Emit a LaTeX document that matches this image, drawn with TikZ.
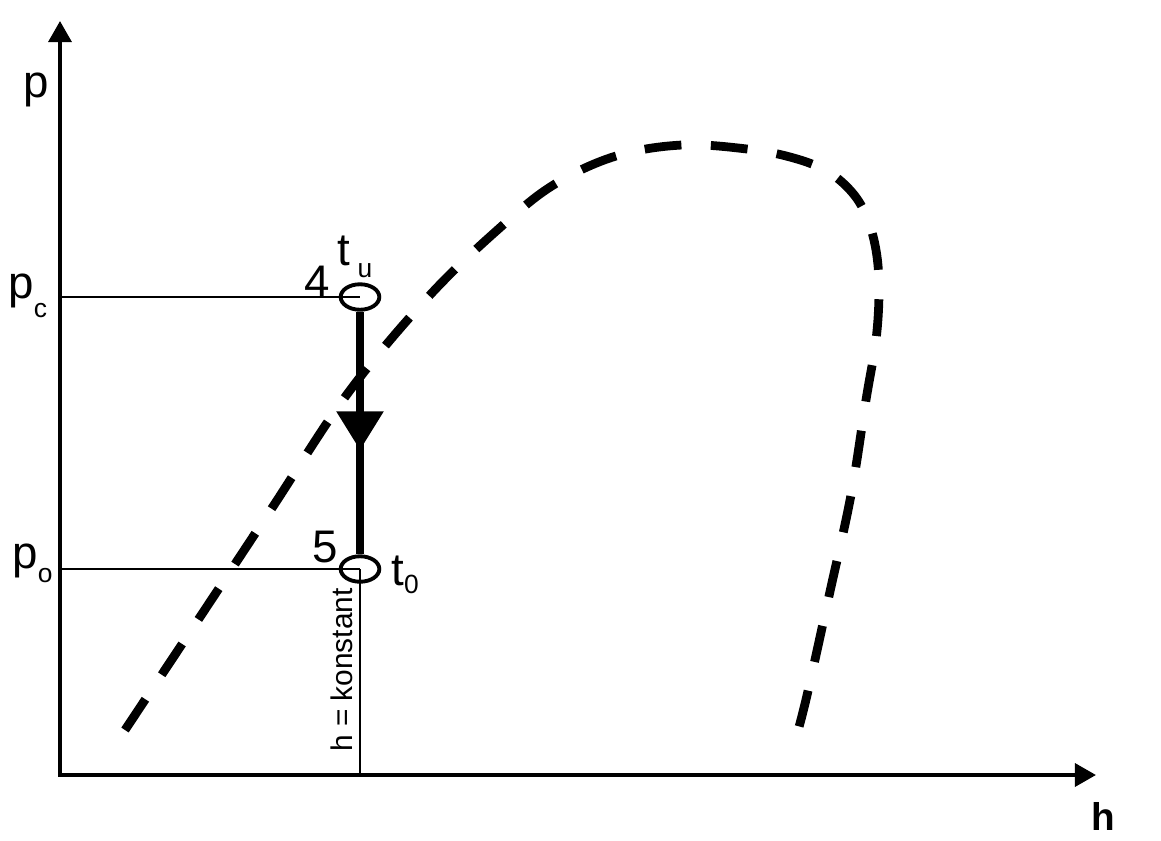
\documentclass[tikz,border=0pt]{standalone}
\usepackage{fontspec}
\setmainfont{Liberation Sans}
\usetikzlibrary{arrows.meta,shapes.geometric,decorations.markings}
\newcommand{\lowsub}[2][8pt]{\raisebox{-#1}{\fontsize{15}{15}\selectfont #2}}
\begin{document}
\begin{tikzpicture}[x=0.02cm,y=-0.02cm,
        axis/.style={line width=2.3pt,-{Triangle[length=12pt,width=13pt]}},
        guide/.style={line width=1pt},
        state/.style={draw,ellipse,line width=2.2pt,inner sep=0pt,
            minimum width=22pt,minimum height=14.5pt},
        lbl/.style={inner sep=0pt,font=\fontsize{26}{26}\selectfont}]
        \useasboundingbox (0,0) rectangle (1161,840);
        %% Axes
        \coordinate (origin) at (60,775);
        \coordinate (ytip) at (60,21);
        \coordinate (xtip) at (1096,775);
        \draw[axis] (origin) -- (ytip);
        \draw[axis] (58,775) -- (xtip);
        \node[lbl,anchor=base] (plabel) at (36,97) {p};
        \node[inner sep=0pt,anchor=base,font=\bfseries\fontsize{22}{22}\selectfont]
            (hlabel) at (1103,830) {h};
        %% Saturation curve
        \draw[line width=5pt,dash pattern=on 21pt off 16.77pt]
            plot[smooth,tension=0.6] coordinates {(125,730) (200,617) (272,508)
            (348,393) (430,295) (503,225) (555,184) (616,156) (682,145)
            (747,149) (790,157) (825,170) (850,190) (866,215) (876,250)
            (879,290) (876,340) (866,400) (851,495) (829,596) (808,691) (799,727)};
        %% States 4 and 5
        \node[state] (s4) at (360,297) {};
        \node[state] (s5) at (360,569) {};
        \coordinate (pcaxis) at (60,297);
        \coordinate (poaxis) at (60,569);
        \coordinate (hfoot) at (360,775);
        \draw[guide] (pcaxis) -- (s4.center);
        \draw[guide] (poaxis) -- (s5.center);
        \draw[guide] (s5.center) -- (hfoot);
        \draw[line width=4pt,postaction={decorate},decoration={markings,
            mark=at position 0.57 with {\arrow{Triangle[length=22pt,width=26pt]}}}]
            (s4) -- (s5);
        %% Labels
        \node[lbl,anchor=base west] (pc) at (8,298) {p\lowsub[11pt]{c}};
        \node[lbl,anchor=base west] (po) at (12,568) {p\lowsub[8pt]{o}};
        \node[lbl,anchor=base] (n4) at (317,297) {4};
        \node[lbl,anchor=base west] (tu) at (337,265) {t\,\lowsub[7pt]{u}};
        \node[lbl,anchor=base] (n5) at (325,562) {5};
        \node[lbl,anchor=base west] (t0) at (391,585) {t\lowsub[5pt]{0}};
        \node[rotate=90,inner sep=0pt,font=\fontsize{17}{17}\selectfont]
            (hconst) at (342,670) {h = konstant};
    \end{tikzpicture}
\end{document}
